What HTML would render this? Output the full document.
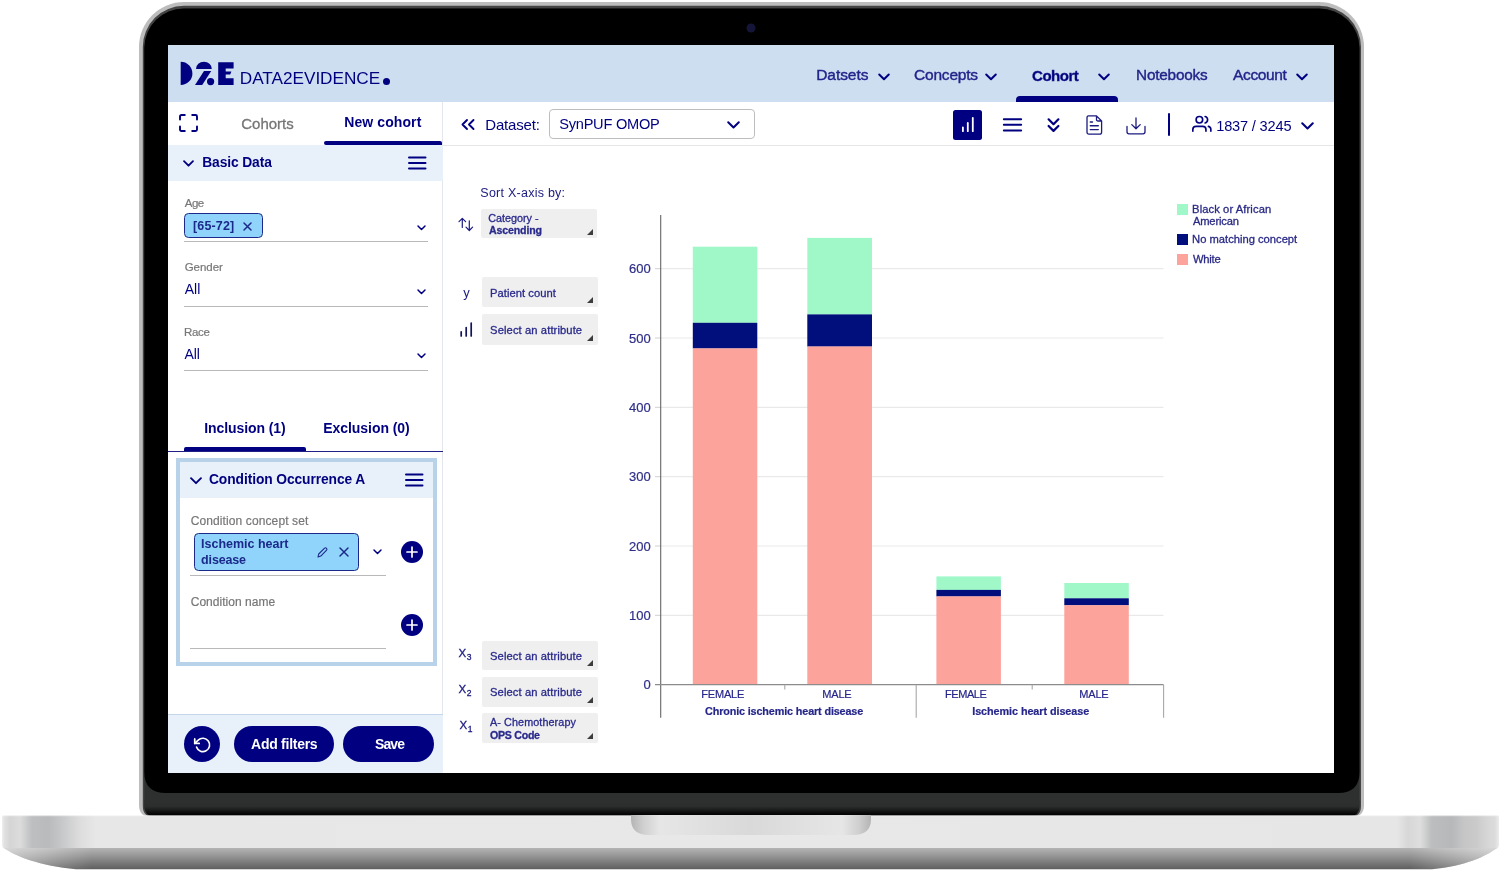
<!DOCTYPE html>
<html lang="en">
<head>
<meta charset="utf-8">
<title>Data2Evidence – Cohort</title>
<style>
*{box-sizing:border-box;margin:0;padding:0}
html,body{width:1500px;height:871px;overflow:hidden;background:#fff}
body{position:relative;font-family:"Liberation Sans",Arial,sans-serif;color:#000080}
.abs{position:absolute}
#frame{position:absolute;left:0;top:0;width:1500px;height:871px}
#screen{position:absolute;left:168px;top:45px;width:1166px;height:728px;background:#fff;overflow:hidden}
#pg{filter:blur(0.45px)}
.t{position:absolute;white-space:nowrap;line-height:1;transform:translateY(-50%)}
.b{font-weight:bold}
.navy{color:#000080}
.gray{color:#777;-webkit-text-stroke:0.2px #777}
svg{position:absolute;overflow:visible}
/* header */
#hdr{position:absolute;left:0;top:0;width:1166px;height:56.5px;background:#cddef0}
/* left panel */
#lp{position:absolute;left:0;top:56.5px;width:274.5px;height:672px;background:#fff;border-right:1.5px solid #e3e6ea}
.sech{position:absolute;background:#e8f1f9}
.ul{position:absolute;height:1px;background:#b9b9b9}
.tag{position:absolute;background:#90d4fb;border:1.6px solid #1b2a8a;border-radius:4.5px}
.sel{position:absolute;background:#efefef;border-radius:2px}
.tri{position:absolute;width:0;height:0;border-left:6px solid transparent;border-bottom:6px solid #3c3c3c}
.pill{position:absolute;background:#000080;border-radius:18px}
.circ{position:absolute;background:#000080;border-radius:50%}
.nav{font-size:15px;color:#23238a;letter-spacing:0.4px;-webkit-text-stroke:0.4px #23238a}
.c{font-size:10.800px;color:#2a2a8c;-webkit-text-stroke:0.3px #2a2a8c}
.ax{font-size:13px;color:#2f2f88;-webkit-text-stroke:0.2px #2f2f88}
.xl{font-size:11px;color:#26268a;-webkit-text-stroke:0.2px #26268a}
.lg{font-size:10.800px;color:#2a2a86;-webkit-text-stroke:0.3px #2a2a86}
/*AUTO*/
#t1{letter-spacing:-0.03px;margin-left:-0.7px;margin-top:0.0px}
#t10{letter-spacing:-0.45px;margin-left:0.3px;margin-top:0.0px}
#t11{letter-spacing:0.15px;margin-left:0.0px;margin-top:0.0px}
#t12{letter-spacing:-0.03px;margin-left:0.3px;margin-top:0.0px}
#t13{letter-spacing:0.00px;margin-left:0.3px;margin-top:0.0px}
#t14{letter-spacing:-0.30px;margin-left:-0.5px;margin-top:0.0px}
#t16{letter-spacing:-0.08px;margin-left:-0.8px;margin-top:0.0px}
#t17{letter-spacing:-0.05px;margin-left:-0.8px;margin-top:0.0px}
#t18{letter-spacing:-0.09px;margin-left:0.0px;margin-top:0.0px}
#t19{letter-spacing:0.11px;margin-left:0.3px;margin-top:0.0px}
#t2{letter-spacing:-0.05px;margin-left:-0.8px;margin-top:0.0px}
#t20{letter-spacing:-0.01px;margin-left:-0.5px;margin-top:0.0px}
#t21{letter-spacing:-0.15px;margin-left:-0.5px;margin-top:0.0px}
#t22{letter-spacing:0.03px;margin-left:0.3px;margin-top:0.0px}
#t23{letter-spacing:-0.27px;margin-left:-0.3px;margin-top:0.0px}
#t24{letter-spacing:-0.90px;margin-left:0.0px;margin-top:0.0px}
#t3{letter-spacing:-0.22px;margin-left:-0.3px;margin-top:0.0px}
#t30{letter-spacing:-0.19px;margin-left:-1.2px;margin-top:0.0px}
#t31{letter-spacing:-0.24px;margin-left:-0.8px;margin-top:0.0px}
#t32{letter-spacing:-0.18px;margin-left:-0.8px;margin-top:0.0px}
#t4{letter-spacing:-0.50px;margin-left:-0.3px;margin-top:0.0px}
#t40{letter-spacing:0.25px;margin-left:-1.0px;margin-top:0.0px}
#t41{letter-spacing:-0.00px;margin-left:-0.6px;margin-top:0.0px}
#t42{letter-spacing:-0.14px;margin-left:0.2px;margin-top:0.0px}
#t44{letter-spacing:0.03px;margin-left:-0.5px;margin-top:0.0px}
#t45{letter-spacing:0.10px;margin-left:-0.5px;margin-top:0.0px}
#t47{letter-spacing:0.10px;margin-left:-0.6px;margin-top:0.0px}
#t49{letter-spacing:0.10px;margin-left:-0.6px;margin-top:0.0px}
#t5{letter-spacing:-0.20px;margin-left:-0.3px;margin-top:0.0px}
#t51{letter-spacing:0.09px;margin-left:0.0px;margin-top:0.0px}
#t52{letter-spacing:-0.26px;margin-left:0.0px;margin-top:0.0px}
#t6{letter-spacing:-0.35px;margin-left:0.0px;margin-top:0.0px}
#t60{letter-spacing:0.00px;margin-left:-5.4px;margin-top:0.0px}
#t65{letter-spacing:0.00px;margin-left:1.8px;margin-top:0.0px}
#t66{letter-spacing:0.00px;margin-left:-11.4px;margin-top:0.0px}
#t7{letter-spacing:0.00px;margin-left:-0.8px;margin-top:0.0px}
#t70{letter-spacing:-0.18px;margin-left:-0.8px;margin-top:0.0px}
#t71{letter-spacing:-0.15px;margin-left:-0.8px;margin-top:0.0px}
#t72{letter-spacing:-0.45px;margin-left:-0.6px;margin-top:0.0px}
#t73{letter-spacing:-0.15px;margin-left:-0.8px;margin-top:0.0px}
#t74{letter-spacing:-0.13px;margin-left:0.0px;margin-top:0.0px}
#t75{letter-spacing:-0.06px;margin-left:-0.6px;margin-top:0.0px}
#t8{letter-spacing:0.10px;margin-left:-0.8px;margin-top:0.0px}
#t80{letter-spacing:0.09px;margin-left:-0.5px;margin-top:0.0px}
#t81{letter-spacing:-0.16px;margin-left:0.3px;margin-top:0.0px}
#t82{letter-spacing:0.00px;margin-left:-0.5px;margin-top:0.0px}
#t83{letter-spacing:-0.22px;margin-left:0.3px;margin-top:0.0px}
#t9{letter-spacing:-0.10px;margin-left:-0.8px;margin-top:0.0px}
/*END*/
</style>
</head>
<body>
<!-- LAPTOP FRAME -->
<svg id="frame" width="1500" height="871" viewBox="0 0 1500 871">
<defs>
<linearGradient id="gbase" gradientUnits="userSpaceOnUse" x1="2" x2="1499" y1="0" y2="0">
<stop offset="0.0000" stop-color="#f0f0f0"/><stop offset="0.0013" stop-color="#e2e2e2"/><stop offset="0.0053" stop-color="#d5d5d5"/><stop offset="0.0120" stop-color="#dcdcdc"/><stop offset="0.0200" stop-color="#bdbfc0"/><stop offset="0.0307" stop-color="#b8babb"/><stop offset="0.0401" stop-color="#c7c8c9"/><stop offset="0.0521" stop-color="#dddddd"/><stop offset="0.0628" stop-color="#e7e7e7"/><stop offset="0.4997" stop-color="#e8e8e8"/><stop offset="0.9319" stop-color="#e6e6e6"/><stop offset="0.9392" stop-color="#d7d7d7"/><stop offset="0.9472" stop-color="#dedede"/><stop offset="0.9552" stop-color="#bbbdbe"/><stop offset="0.9686" stop-color="#b6b8b9"/><stop offset="0.9766" stop-color="#c6c6c6"/><stop offset="0.9846" stop-color="#cacaca"/><stop offset="0.9913" stop-color="#d5d5d5"/><stop offset="0.9973" stop-color="#dcdcdc"/><stop offset="1.0000" stop-color="#ececec"/>
</linearGradient>
<linearGradient id="glip" x1="0" x2="0" y1="0" y2="1">
<stop offset="0" stop-color="#b4b4b4"/><stop offset="0.45" stop-color="#8f8f8f"/><stop offset="1" stop-color="#5e5e5e"/>
</linearGradient>
<linearGradient id="glipx" gradientUnits="userSpaceOnUse" x1="2" x2="1499" y1="0" y2="0">
<stop offset="0" stop-color="#fff" stop-opacity="0.5"/><stop offset="0.06" stop-color="#fff" stop-opacity="0"/><stop offset="0.94" stop-color="#fff" stop-opacity="0"/><stop offset="1" stop-color="#fff" stop-opacity="0.5"/>
</linearGradient>
<linearGradient id="gnotch" x1="0" x2="1" y1="0" y2="0">
<stop offset="0" stop-color="#b4b4b4"/><stop offset="0.05" stop-color="#cfcfcf"/><stop offset="0.12" stop-color="#e6e6e6"/><stop offset="0.5" stop-color="#d8d9d8"/><stop offset="0.88" stop-color="#e6e6e6"/><stop offset="0.95" stop-color="#cfcfcf"/><stop offset="1" stop-color="#b4b4b4"/>
</linearGradient>
<linearGradient id="gband" x1="0" x2="0" y1="0" y2="1">
<stop offset="0" stop-color="#2e302f"/><stop offset="0.4" stop-color="#2c2e2d"/><stop offset="0.85" stop-color="#080808"/><stop offset="1" stop-color="#000"/>
</linearGradient>
</defs>
<!-- lid outer -->
<path d="M139 805 V47 A45 45 0 0 1 184 2 H1319 A45 45 0 0 1 1364 47 V805 Q1364 817 1352 817 H151 Q139 817 139 805 Z" fill="#bdbdbd"/>
<path d="M142.800 806 V47 A41.200 41.200 0 0 1 184 5.800 H1319 A42 41.200 0 0 1 1361 47 V806 Q1361 817 1350 817 H153.800 Q142.800 817 142.800 806 Z" fill="#444"/>
<path d="M144.300 806 V48 A39.700 39.500 0 0 1 184 8.500 H1319 A40.500 39.500 0 0 1 1359.500 48 V806 Q1359.500 816 1349.500 816 H154.300 Q144.300 816 144.300 806 Z" fill="#2e302f"/>
<path d="M144.300 800 H1359.500 V806 Q1359.500 816 1349.500 816 H154.300 Q144.300 816 144.300 806 Z" fill="url(#gband)"/>
<path d="M144.300 772 V48 A39.700 39.500 0 0 1 184 8.500 H1319 A40.500 39.500 0 0 1 1359.500 48 V772 Q1359.500 793 1338 793 H166 Q144.300 793 144.300 772 Z" fill="#000"/>
<circle cx="751" cy="28" r="4.500" fill="#15153a"/>
<!-- base -->
<path d="M2 815.500 H1499 V845 Q1499 848.500 1495 848.500 H6 Q2 848.500 2 845 Z" fill="url(#gbase)"/>
<rect x="2" y="815.300" width="1497" height="1" fill="#fff" opacity="0.45"/>
<path d="M4 848 H1497 C1486 856 1466 866 1432 869.300 H76 C40 866 15 856 4 848 Z" fill="url(#glip)"/>
<path d="M4 848 H1497 C1486 856 1466 866 1432 869.300 H76 C40 866 15 856 4 848 Z" fill="url(#glipx)"/>
<path d="M631 815 H871 V819 Q871 835 853 835 H649 Q631 835 631 819 Z" fill="url(#gnotch)"/>
</svg>

<div id="screen">
<div id="hdr"></div>
<div id="lp"></div>
<div id="pg" style="position:absolute;left:-168px;top:-45px;width:1500px;height:871px">
<!-- ===== HEADER ===== -->
<svg style="left:180px;top:61px" width="55" height="25" viewBox="0 0 55 25">
<path d="M0.700 0.800 A11.700 11.600 0 0 1 0.700 24 Z" fill="#000080"/>
<path d="M16 8 A7.900 7.300 0 0 1 31.800 8 Z" fill="#000080"/>
<path d="M24 10.100 H31.200 L22.200 24 H15 Z" fill="#000080"/>
<circle cx="30.600" cy="20.600" r="3.600" fill="#000080"/>
<path d="M38.200 1.200 H53.600 V7.400 H45.700 V10.600 H51.400 L50.200 13.600 H45.700 V17.200 H53.600 V24 H38.200 Z" fill="#000080"/>
</svg>
<span class="t" id="t1" style="left:240.500px;top:78.600px;font-size:17.200px">DATA2EVIDENCE</span>
<div class="circ" style="left:382.800px;top:77.900px;width:7.200px;height:7.200px"></div>

<span class="t nav" id="t2" style="font-size:15.5px;left:817px;top:74.6px">Datsets</span>
<svg style="left:878px;top:72.500px" width="12" height="8" viewBox="0 0 12 8"><path d="M1.200 1.500 L6 6.300 L10.800 1.500" fill="none" stroke="#000080" stroke-width="2" stroke-linecap="round" stroke-linejoin="round"/></svg>
<span class="t nav" id="t3" style="font-size:15.5px;left:914.400px;top:74.6px">Concepts</span>
<svg style="left:985px;top:72.500px" width="12" height="8" viewBox="0 0 12 8"><path d="M1.200 1.500 L6 6.300 L10.800 1.500" fill="none" stroke="#000080" stroke-width="2" stroke-linecap="round" stroke-linejoin="round"/></svg>
<span class="t nav b" id="t4" style="font-size:15px;left:1032.400px;top:74.6px;color:#000080">Cohort</span>
<svg style="left:1097.500px;top:72.500px" width="12" height="8" viewBox="0 0 12 8"><path d="M1.200 1.500 L6 6.300 L10.800 1.500" fill="none" stroke="#000080" stroke-width="2" stroke-linecap="round" stroke-linejoin="round"/></svg>
<div class="abs" style="left:1016px;top:95.600px;width:101.600px;height:6px;background:#000080;border-radius:4px 4px 0 0"></div>
<span class="t nav" id="t5" style="font-size:15.3px;left:1136.400px;top:75.1px">Notebooks</span>
<span class="t nav" id="t6" style="font-size:15.5px;left:1233px;top:74.6px">Account</span>
<svg style="left:1296px;top:72.500px" width="12" height="8" viewBox="0 0 12 8"><path d="M1.200 1.500 L6 6.300 L10.800 1.500" fill="none" stroke="#000080" stroke-width="2" stroke-linecap="round" stroke-linejoin="round"/></svg>
<!-- ===== LEFT PANEL ===== -->
<svg style="left:178.500px;top:114px" width="19" height="18" viewBox="0 0 19 18"><path d="M1 5.500 V2.500 Q1 1 2.500 1 H5.800 M13.200 1 H16.500 Q18 1 18 2.500 V5.500 M18 12.500 V15.500 Q18 17 16.500 17 H13.200 M5.800 17 H2.500 Q1 17 1 15.500 V12.500" fill="none" stroke="#000080" stroke-width="1.900" stroke-linecap="round"/></svg>
<span class="t" id="t7" style="left:242px;top:123px;font-size:15px;color:#757575;-webkit-text-stroke:0.3px #757575">Cohorts</span>
<span class="t b" id="t8" style="left:345px;top:122.300px;font-size:14px">New cohort</span>
<div class="abs" style="left:324.400px;top:141.400px;width:118px;height:3.400px;background:#000080;border-radius:2px 2px 0 2px"></div>
<div class="abs" style="left:442.500px;top:144.600px;width:891px;height:1.200px;background:#e6e6e6"></div>

<div class="sech" style="left:168px;top:145px;width:274.500px;height:36px"></div>
<svg style="left:182.500px;top:159.500px" width="11" height="7" viewBox="0 0 11 7"><path d="M1 1.200 L5.500 5.700 L10 1.200" fill="none" stroke="#000080" stroke-width="1.800" stroke-linecap="round" stroke-linejoin="round"/></svg>
<span class="t b" id="t9" style="left:203px;top:162.800px;font-size:13.8px">Basic Data</span>
<svg style="left:407.600px;top:156px" width="19" height="14" viewBox="0 0 19 14"><path d="M1 1.500 H17.500 M1 7 H17.500 M1 12.500 H17.500" stroke="#000080" stroke-width="2" stroke-linecap="round"/></svg>

<span class="t gray" id="t10" style="left:184.400px;top:203.800px;font-size:11.5px">Age</span>
<div class="tag" style="left:184.400px;top:213.400px;width:79px;height:25px"></div>
<span class="t b" id="t11" style="left:193px;top:226.200px;font-size:12.500px;color:#1b2a8a">[65-72]</span>
<svg style="left:243px;top:221.500px" width="9" height="9" viewBox="0 0 9 9"><path d="M1 1 L8 8 M8 1 L1 8" stroke="#1b2a8a" stroke-width="1.500" stroke-linecap="round"/></svg>
<svg style="left:416.500px;top:224.500px" width="9" height="6" viewBox="0 0 9 6"><path d="M1 1 L4.500 4.500 L8 1" fill="none" stroke="#000080" stroke-width="1.500" stroke-linecap="round" stroke-linejoin="round"/></svg>
<div class="ul" style="left:184.400px;top:241px;width:243.200px"></div>

<span class="t gray" id="t12" style="left:184.400px;top:268.200px;font-size:11.5px">Gender</span>
<span class="t" id="t13" style="left:184.400px;top:289.300px;font-size:14px">All</span>
<svg style="left:416.500px;top:288.500px" width="9" height="6" viewBox="0 0 9 6"><path d="M1 1 L4.500 4.500 L8 1" fill="none" stroke="#000080" stroke-width="1.500" stroke-linecap="round" stroke-linejoin="round"/></svg>
<div class="ul" style="left:184.400px;top:306px;width:243.200px"></div>

<span class="t gray" id="t14" style="left:184.400px;top:332.600px;font-size:11.5px">Race</span>
<span class="t" id="t15" style="left:184.400px;top:353.700px;font-size:14px">All</span>
<svg style="left:416.500px;top:352.500px" width="9" height="6" viewBox="0 0 9 6"><path d="M1 1 L4.500 4.500 L8 1" fill="none" stroke="#000080" stroke-width="1.500" stroke-linecap="round" stroke-linejoin="round"/></svg>
<div class="ul" style="left:184.400px;top:370px;width:243.200px"></div>

<span class="t b" id="t16" style="left:205px;top:428.300px;font-size:14px">Inclusion (1)</span>
<span class="t b" id="t17" style="left:324px;top:428.300px;font-size:14px">Exclusion (0)</span>
<div class="abs" style="left:184.400px;top:447px;width:121.600px;height:4.400px;background:#000080;border-radius:2px 2px 0 0"></div>
<div class="abs" style="left:168px;top:450.500px;width:274.500px;height:1px;background:#1f1f85"></div>

<div class="abs" style="left:175.600px;top:458px;width:261.400px;height:207.600px;border:4px solid #b8d2ea;background:#fff"></div>
<div class="sech" style="left:179.600px;top:462px;width:253.400px;height:36px"></div>
<svg style="left:190px;top:476.500px" width="12" height="8" viewBox="0 0 12 8"><path d="M1 1.200 L6 6.200 L11 1.200" fill="none" stroke="#000080" stroke-width="1.900" stroke-linecap="round" stroke-linejoin="round"/></svg>
<span class="t b" id="t18" style="left:209px;top:479.800px;font-size:13.8px">Condition Occurrence A</span>
<svg style="left:404.800px;top:473.400px" width="19" height="14" viewBox="0 0 19 14"><path d="M1 1.500 H17.500 M1 7 H17.500 M1 12.500 H17.500" stroke="#000080" stroke-width="2" stroke-linecap="round"/></svg>

<span class="t gray" id="t19" style="left:190.400px;top:520.700px;font-size:12px">Condition concept set</span>
<div class="tag" style="left:193.600px;top:532.600px;width:165px;height:38px"></div>
<span class="t b" id="t20" style="left:201.600px;top:544.200px;font-size:12.500px;color:#1b2a8a">Ischemic heart</span>
<span class="t b" id="t21" style="left:201.600px;top:560.200px;font-size:12.500px;color:#1b2a8a">disease</span>
<svg style="left:316.500px;top:546.500px" width="11" height="11" viewBox="0 0 11 11"><path d="M1 10 L1.700 7 L7.600 1.100 Q8.600 0.400 9.500 1.300 Q10.400 2.300 9.600 3.200 L3.800 9.100 Z" fill="none" stroke="#1b2a8a" stroke-width="1.100" stroke-linejoin="round"/></svg>
<svg style="left:338.600px;top:547.200px" width="10" height="10" viewBox="0 0 10 10"><path d="M1 1 L9 9 M9 1 L1 9" stroke="#1b2a8a" stroke-width="1.500" stroke-linecap="round"/></svg>
<svg style="left:373.400px;top:548.600px" width="9" height="6" viewBox="0 0 9 6"><path d="M1 1 L4.500 4.500 L8 1" fill="none" stroke="#000080" stroke-width="1.500" stroke-linecap="round" stroke-linejoin="round"/></svg>
<div class="circ" style="left:401px;top:540.500px;width:22.400px;height:22.400px"></div>
<svg style="left:406.200px;top:545.700px" width="12" height="12" viewBox="0 0 12 12"><path d="M6 1 V11 M1 6 H11" stroke="#fff" stroke-width="1.700" stroke-linecap="round"/></svg>
<div class="ul" style="left:190.400px;top:575px;width:195.600px"></div>

<span class="t gray" id="t22" style="left:190.400px;top:602.300px;font-size:12px">Condition name</span>
<div class="circ" style="left:401px;top:614px;width:22.400px;height:22.400px"></div>
<svg style="left:406.200px;top:619.200px" width="12" height="12" viewBox="0 0 12 12"><path d="M6 1 V11 M1 6 H11" stroke="#fff" stroke-width="1.700" stroke-linecap="round"/></svg>
<div class="ul" style="left:190.400px;top:648px;width:195.600px"></div>

<div class="abs" style="left:168px;top:714px;width:274.500px;height:59px;background:#e8f1f9;border-top:1.400px solid #c3d6ea"></div>
<div class="circ" style="left:183.600px;top:726px;width:36px;height:36px"></div>
<svg style="left:193.670px;top:735.670px" width="17.860" height="17.860" viewBox="0 0 24 24" fill="none" stroke="#fff" stroke-width="2.300" stroke-linecap="round" stroke-linejoin="round"><polyline points="1 4 1 10 7 10"/><path d="M3.510 15a9 9 0 1 0 2.130-9.360L1 10"/></svg>
<div class="pill" style="left:234px;top:726px;width:100.400px;height:36px"></div>
<span class="t b" id="t23" style="left:251.400px;top:744.300px;font-size:14px;color:#fff">Add filters</span>
<div class="pill" style="left:343px;top:726px;width:91.400px;height:36px"></div>
<span class="t b" id="t24" style="left:375px;top:744.300px;font-size:14px;color:#fff">Save</span>
<!-- ===== TOOLBAR ===== -->
<svg style="left:460.800px;top:119px" width="14" height="11" viewBox="0 0 14 11"><path d="M6 1 L1.500 5.500 L6 10 M12.500 1 L8 5.500 L12.500 10" fill="none" stroke="#000080" stroke-width="1.900" stroke-linecap="round" stroke-linejoin="round"/></svg>
<span class="t" id="t30" style="left:486.500px;top:123.9px;font-size:15px">Dataset:</span>
<div class="abs" style="left:548.800px;top:109px;width:206.400px;height:30px;border:1.300px solid #bdbdbd;border-radius:4px;background:#fff"></div>
<span class="t" id="t31" style="left:560px;top:124.4px;font-size:14.6px">SynPUF OMOP</span>
<svg style="left:726.500px;top:120.500px" width="13" height="8" viewBox="0 0 13 8"><path d="M1.200 1.200 L6.500 6.500 L11.800 1.200" fill="none" stroke="#000080" stroke-width="2" stroke-linecap="round" stroke-linejoin="round"/></svg>

<div class="abs" style="left:953.200px;top:110.300px;width:29.300px;height:29.300px;background:#000080;border-radius:2.500px"></div>
<svg style="left:953.200px;top:110.300px" width="29.300" height="29.300" viewBox="0 0 29.300 29.300"><path d="M9.900 21.200 V17.300 M14.800 21.200 V12.800 M19.800 21.200 V7.800" stroke="#fff" stroke-width="1.800" stroke-linecap="round"/></svg>
<svg style="left:1003px;top:118px" width="19" height="14" viewBox="0 0 19 14"><path d="M0.800 1.200 H18.200 M0.800 6.800 H18.200 M0.800 12.500 H18.200" stroke="#000080" stroke-width="1.900" stroke-linecap="round"/></svg>
<svg style="left:1047px;top:118px" width="13" height="14" viewBox="0 0 13 14"><path d="M1.600 1.300 L6.500 6.200 L11.400 1.300 M1.600 8 L6.500 12.900 L11.400 8" fill="none" stroke="#000080" stroke-width="2.200" stroke-linecap="round" stroke-linejoin="round"/></svg>
<svg style="left:1086px;top:115px" width="17" height="20" viewBox="0 0 17 20"><path d="M2.500 0.900 H10.500 L15.600 6 V17.200 Q15.600 19.100 13.700 19.100 H2.900 Q1 19.100 1 17.200 V2.800 Q1 0.900 2.500 0.900 Z M10.500 0.900 V4.500 Q10.500 6 12 6 H15.600" fill="none" stroke="#1b1b80" stroke-width="1.300" stroke-linejoin="round"/><path d="M4.300 7 H6.500 M4.300 10.800 H12.300 M4.300 14.600 H12.300" stroke="#1b1b80" stroke-width="1.400" stroke-linecap="round"/></svg>
<svg style="left:1125.500px;top:116.500px" width="20" height="18" viewBox="0 0 20 18"><path d="M10 1 V11.600 M5.800 7.600 L10 11.800 L14.200 7.600" fill="none" stroke="#1b1b80" stroke-width="1.300" stroke-linecap="round" stroke-linejoin="round"/><path d="M1 9.500 V14.800 Q1 16.800 3 16.800 H17 Q19 16.800 19 14.800 V9.500" fill="none" stroke="#1b1b80" stroke-width="1.300" stroke-linecap="round"/></svg>
<div class="abs" style="left:1167.500px;top:113px;width:2px;height:22.600px;background:#000080;border-radius:1px"></div>
<svg style="left:1192.100px;top:114.400px" width="19.700" height="19.700" viewBox="0 0 24 24" fill="none" stroke="#000080" stroke-width="2" stroke-linecap="round" stroke-linejoin="round"><path d="M17 21v-2a4 4 0 0 0-4-4H5a4 4 0 0 0-4 4v2"/><circle cx="9" cy="7" r="4"/><path d="M23 21v-2a4 4 0 0 0-3-3.870"/><path d="M16 3.130a4 4 0 0 1 0 7.750"/></svg>
<span class="t" id="t32" style="left:1217px;top:125.800px;font-size:14.6px">1837 / 3245</span>
<svg style="left:1301px;top:121.500px" width="13" height="8" viewBox="0 0 13 8"><path d="M1.200 1.200 L6.500 6.500 L11.800 1.200" fill="none" stroke="#000080" stroke-width="2" stroke-linecap="round" stroke-linejoin="round"/></svg>

<!-- ===== CHART CONTROLS ===== -->
<span class="t" id="t40" style="left:481.300px;top:193.400px;font-size:12.500px;color:#1b1b80">Sort X-axis by:</span>
<svg style="left:457.800px;top:216.500px" width="16" height="15" viewBox="0 0 16 15"><path d="M4.300 10.500 V1.300 M1 4.600 L4.300 1.300 L7.600 4.600 M11.300 3.800 V13.500 M8 10.200 L11.300 13.500 L14.600 10.200" fill="none" stroke="#1b1b80" stroke-width="1.200" stroke-linecap="round" stroke-linejoin="round"/></svg>
<div class="sel" style="left:481.300px;top:208.800px;width:116px;height:29.200px"></div>
<span class="t c" id="t41" style="left:488.800px;top:217.8px">Category -</span>
<span class="t c b" id="t42" style="font-size:10.6px;left:488.800px;top:229.5px">Ascending</span>
<div class="tri" style="left:587px;top:228.800px"></div>

<span class="t" id="t43" style="left:463.200px;top:291.500px;font-size:13px;color:#1b1b80">y</span>
<div class="sel" style="left:482px;top:276.800px;width:116px;height:30px"></div>
<span class="t c" id="t44" style="font-size:11.2px;left:490.600px;top:293.800px">Patient count</span>
<div class="tri" style="left:587.400px;top:297.200px"></div>

<svg style="left:459.500px;top:321.500px" width="13" height="15" viewBox="0 0 13 15"><path d="M1.200 14 V9.800 M6.200 14 V5.500 M11.200 14 V1" stroke="#14145a" stroke-width="1.700" stroke-linecap="round"/></svg>
<div class="sel" style="left:482px;top:314.200px;width:116px;height:30.400px"></div>
<span class="t c" id="t45" style="font-size:11.2px;left:490.600px;top:330.8px">Select an attribute</span>
<div class="tri" style="left:587.400px;top:334.600px"></div>

<span class="t" id="t46" style="left:458.500px;top:654.500px;font-size:11.5px;color:#1b1b80;-webkit-text-stroke:0.3px #1b1b80">X<sub style="font-size:8.500px;vertical-align:-3px;margin-left:0.5px">3</sub></span>
<div class="sel" style="left:482.200px;top:640.700px;width:116px;height:29.400px"></div>
<span class="t c" id="t47" style="font-size:11.2px;left:490.600px;top:656.6px">Select an attribute</span>
<div class="tri" style="left:587.400px;top:660.400px"></div>

<span class="t" id="t48" style="left:458.500px;top:690.800px;font-size:11.5px;color:#1b1b80;-webkit-text-stroke:0.3px #1b1b80">X<sub style="font-size:8.500px;vertical-align:-3px;margin-left:0.5px">2</sub></span>
<div class="sel" style="left:482.200px;top:677px;width:116px;height:29.900px"></div>
<span class="t c" id="t49" style="font-size:11.2px;left:490.600px;top:692.9px">Select an attribute</span>
<div class="tri" style="left:587.400px;top:696.800px"></div>

<span class="t" id="t50" style="left:459.500px;top:727px;font-size:11.5px;color:#1b1b80;-webkit-text-stroke:0.3px #1b1b80">X<sub style="font-size:8.500px;vertical-align:-3px;margin-left:0.5px">1</sub></span>
<div class="sel" style="left:482.200px;top:713.300px;width:116px;height:29.800px"></div>
<span class="t c" id="t51" style="left:490px;top:722.0px">A- Chemotherapy</span>
<span class="t c b" id="t52" style="font-size:10.6px;left:490px;top:735.400px">OPS Code</span>
<div class="tri" style="left:587.400px;top:733.200px"></div>

<!-- ===== CHART ===== -->
<svg style="left:0;top:0" width="1500" height="871" viewBox="0 0 1500 871">
<g stroke="#e9e9e9" stroke-width="1.200">
<path d="M661 268.700 H1163.500 M661 338 H1163.500 M661 407.300 H1163.500 M661 476.700 H1163.500 M661 546 H1163.500 M661 615.300 H1163.500"/>
</g>
<g stroke="#cfcfcf" stroke-width="1">
<path d="M655 268.700 H661 M655 338 H661 M655 407.300 H661 M655 476.700 H661 M655 546 H661 M655 615.300 H661"/>
</g>
<!-- bars -->
<rect x="692.800" y="246.700" width="64.500" height="76.200" fill="#a0f8c9"/>
<rect x="692.800" y="322.800" width="64.500" height="25.700" fill="#000f7b"/>
<rect x="692.800" y="348.400" width="64.500" height="336.300" fill="#fca39c"/>
<rect x="807.300" y="237.900" width="64.700" height="76.600" fill="#a0f8c9"/>
<rect x="807.300" y="314.400" width="64.700" height="32.200" fill="#000f7b"/>
<rect x="807.300" y="346.500" width="64.700" height="338.200" fill="#fca39c"/>
<rect x="936.400" y="576.400" width="64.500" height="13.600" fill="#a0f8c9"/>
<rect x="936.400" y="589.900" width="64.500" height="6.600" fill="#000f7b"/>
<rect x="936.400" y="596.400" width="64.500" height="88.300" fill="#fca39c"/>
<rect x="1064.300" y="583" width="64.500" height="15.400" fill="#a0f8c9"/>
<rect x="1064.300" y="598.300" width="64.500" height="7" fill="#000f7b"/>
<rect x="1064.300" y="605.200" width="64.500" height="79.500" fill="#fca39c"/>
<!-- axes -->
<path d="M660.700 215 V717.700" stroke="#666" stroke-width="1.100" fill="none"/>
<path d="M655 684.700 H1163.600" stroke="#8c8c8c" stroke-width="1.200" fill="none"/>
<path d="M916.200 684.700 V717.700 M1163.600 684.700 V717.700 M784.800 684.700 V689.500 M1032.200 684.700 V689.500" stroke="#a8a8a8" stroke-width="1.100" fill="none"/>
</svg>
<span class="t ax" id="t60" style="right:849.200px;top:268.4px">600</span>
<span class="t ax" id="t61" style="right:849.200px;top:337.7px">500</span>
<span class="t ax" id="t62" style="right:849.200px;top:407.0px">400</span>
<span class="t ax" id="t63" style="right:849.200px;top:476.4px">300</span>
<span class="t ax" id="t64" style="right:849.200px;top:545.7px">200</span>
<span class="t ax" id="t65" style="right:849.200px;top:615.0px">100</span>
<span class="t ax" id="t66" style="right:849.200px;top:684.4px">0</span>

<span class="t xl" id="t70" style="left:702px;top:694.200px">FEMALE</span>
<span class="t xl" id="t71" style="left:823px;top:694.200px">MALE</span>
<span class="t xl" id="t72" style="left:945.700px;top:694.200px">FEMALE</span>
<span class="t xl" id="t73" style="left:1080px;top:694.200px">MALE</span>
<span class="t xl b" id="t74" style="font-size:10.8px;left:705px;top:710.800px">Chronic ischemic heart disease</span>
<span class="t xl b" id="t75" style="font-size:10.8px;left:972.800px;top:710.800px">Ischemic heart disease</span>

<!-- legend -->
<div class="abs" style="left:1176.800px;top:204.200px;width:11.400px;height:10.700px;background:#a0f8c9"></div>
<span class="t lg" id="t80" style="font-size:11.2px;left:1192.600px;top:209.600px">Black or African</span>
<span class="t lg" id="t81" style="font-size:11.2px;left:1192.600px;top:221.700px">American</span>
<div class="abs" style="left:1176.800px;top:233.800px;width:11.400px;height:10.800px;background:#000f7b"></div>
<span class="t lg" id="t82" style="font-size:11.2px;left:1192.600px;top:239.700px">No matching concept</span>
<div class="abs" style="left:1176.800px;top:254px;width:11.400px;height:10.700px;background:#fca39c"></div>
<span class="t lg" id="t83" style="font-size:11.2px;left:1192.600px;top:259.700px">White</span>
</div>

</div>
</body>
</html>
